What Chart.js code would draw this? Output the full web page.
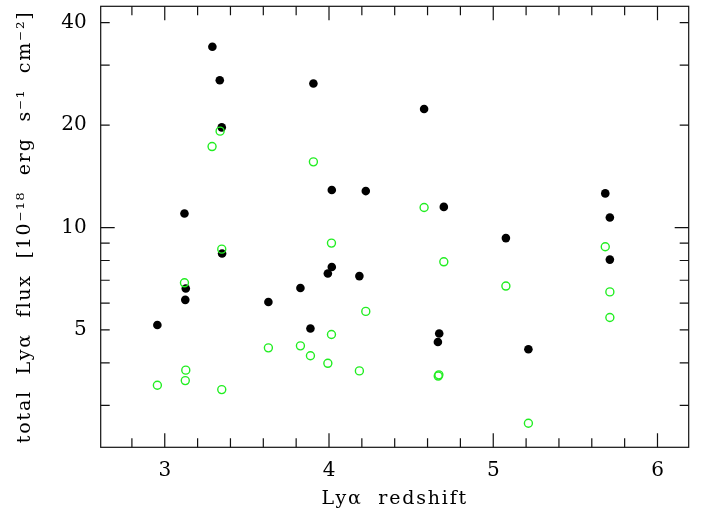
<!DOCTYPE html>
<html>
<script src="https://cdn.jsdelivr.net/npm/chart.js@4.4.0/dist/chart.umd.min.js"></script>

<body style="margin: 0; background: white;">
  <div style="width: 707px; height: 513px;">
    <canvas id="flux"></canvas>
  </div>
  <script>
    // total Lya flux (filled black)
    const totalZ = [3.29, 3.335, 3.347, 3.905, 4.017, 4.224, 3.12, 3.349, 3.128, 3.125, 2.955, 3.631, 3.826,
      3.887, 4.017, 3.993, 4.185, 4.579, 4.699, 4.671, 4.663, 5.077, 5.214, 5.682, 5.71, 5.71];
    const totalFlux = [34.0, 27.1, 19.7, 26.5, 12.9, 12.8, 11.0, 8.39, 6.62, 6.13, 5.17, 6.04, 6.64,
      5.05, 7.66, 7.33, 7.2, 22.3, 11.5, 4.88, 4.61, 9.31, 4.39, 12.6, 10.7, 8.05];

    // second flux measurement (open green)
    const openZ = [3.337, 3.288, 3.905, 3.347, 3.12, 2.955, 3.128, 3.125, 3.347, 3.631, 3.826, 3.887, 4.015,
      4.015, 3.993, 4.185, 4.224, 4.579, 4.699, 4.669, 4.665, 5.077, 5.214, 5.682, 5.71, 5.71];
    const openFlux = [19.2, 17.3, 15.6, 8.64, 6.88, 3.44, 3.81, 3.55, 3.34, 4.43, 4.49, 4.20, 9.0,
      4.85, 3.99, 3.79, 5.67, 11.45, 7.93, 3.69, 3.66, 6.73, 2.66, 8.78, 6.47, 5.44];

    const xLabels = [3, 4, 5, 6];
    const xMinor = [2.8, 3.2, 3.4, 3.6, 3.8, 4.2, 4.4, 4.6, 4.8, 5.2, 5.4, 5.6, 5.8];
    const yLabels = [5, 10, 20, 40];
    const yMajor = [10];
    const yMinor = [3, 4, 5, 6, 7, 8, 9, 20, 30, 40];

    const toPoints = (xs, ys) => xs.map((x, i) => ({ x: x, y: ys[i] }));

    // box round the plot, with ticks pointing inward on all four sides
    const frame = {
      id: "frame",
      afterLayout(chart) {
        // spread the axis titles out a bit, like the old plotting fonts
        Object.values(chart.scales).forEach((s) => {
          if (s._wideTitle) return;
          const orig = s.drawTitle;
          s.drawTitle = function () {
            this.ctx.save();
            this.ctx.letterSpacing = "1.8px";
            orig.apply(this, arguments);
            this.ctx.restore();
          };
          s._wideTitle = true;
        });
      },
      afterDraw(chart) {
        const ctx = chart.ctx;
        const a = chart.chartArea;
        const sx = chart.scales.x;
        const sy = chart.scales.y;
        ctx.save();
        ctx.strokeStyle = "#111";
        ctx.lineWidth = 1.2;
        ctx.strokeRect(a.left, a.top, a.right - a.left, a.bottom - a.top);
        ctx.beginPath();
        const xTick = (v, len) => {
          const px = sx.getPixelForValue(v);
          ctx.moveTo(px, a.bottom); ctx.lineTo(px, a.bottom - len);
          ctx.moveTo(px, a.top); ctx.lineTo(px, a.top + len);
        };
        const yTick = (v, len) => {
          const py = sy.getPixelForValue(v);
          ctx.moveTo(a.left, py); ctx.lineTo(a.left + len, py);
          ctx.moveTo(a.right, py); ctx.lineTo(a.right - len, py);
        };
        xLabels.forEach((v) => xTick(v, 14));
        xMinor.forEach((v) => xTick(v, 9));
        yMajor.forEach((v) => yTick(v, 14));
        yMinor.forEach((v) => yTick(v, 9));
        ctx.stroke();
        ctx.restore();
      },
    };

    const serif = "'DejaVu Serif', serif";

    new Chart("flux", {
      type: "scatter",
      data: {
        datasets: [
          {
            data: toPoints(openZ, openFlux),
            backgroundColor: "rgba(0,0,0,0)",
            borderColor: "#22ee22",
            borderWidth: 1.4,
            pointRadius: 4,
          },
          {
            data: toPoints(totalZ, totalFlux),
            backgroundColor: "#000",
            borderColor: "#000",
            borderWidth: 0,
            pointRadius: 4.3,
          },
        ],
      },
      plugins: [frame],
      options: {
        responsive: true,
        maintainAspectRatio: false,
        animation: false,
        events: [],
        layout: { padding: { left: 8, right: 18.3, top: 6.3, bottom: 3 } },
        plugins: { legend: { display: false }, tooltip: { enabled: false } },
        scales: {
          x: {
            type: "linear",
            min: 2.61,
            max: 6.19,
            afterBuildTicks: (s) => { s.ticks = xLabels.map((v) => ({ value: v })); },
            afterFit: (s) => { s.height = 62.7; s.paddingLeft = 0; s.paddingRight = 0; },
            grid: { display: false, drawTicks: false },
            border: { display: false },
            ticks: { autoSkip: false, maxRotation: 0, padding: 11, color: "#000", font: { family: serif, size: 20 } },
            title: { display: true, text: "Lyα  redshift", color: "#000", padding: 0, font: { family: serif, size: 19 } },
          },
          y: {
            type: "logarithmic",
            min: 2.26,
            max: 44.7,
            afterBuildTicks: (s) => { s.ticks = yLabels.map((v) => ({ value: v })); },
            afterFit: (s) => { s.width = 92.7; s.paddingTop = 0; s.paddingBottom = 0; },
            grid: { display: false, drawTicks: false },
            border: { display: false },
            ticks: { autoSkip: false, padding: 14, color: "#000", font: { family: serif, size: 20 }, callback: (v) => String(v) },
            title: { display: true, text: "total  Lyα  flux  [10⁻¹⁸  erg  s⁻¹  cm⁻²]", color: "#000", padding: { top: 6 }, font: { family: serif, size: 19 } },
          },
        },
      },
    });
  </script>
</body>

</html>
